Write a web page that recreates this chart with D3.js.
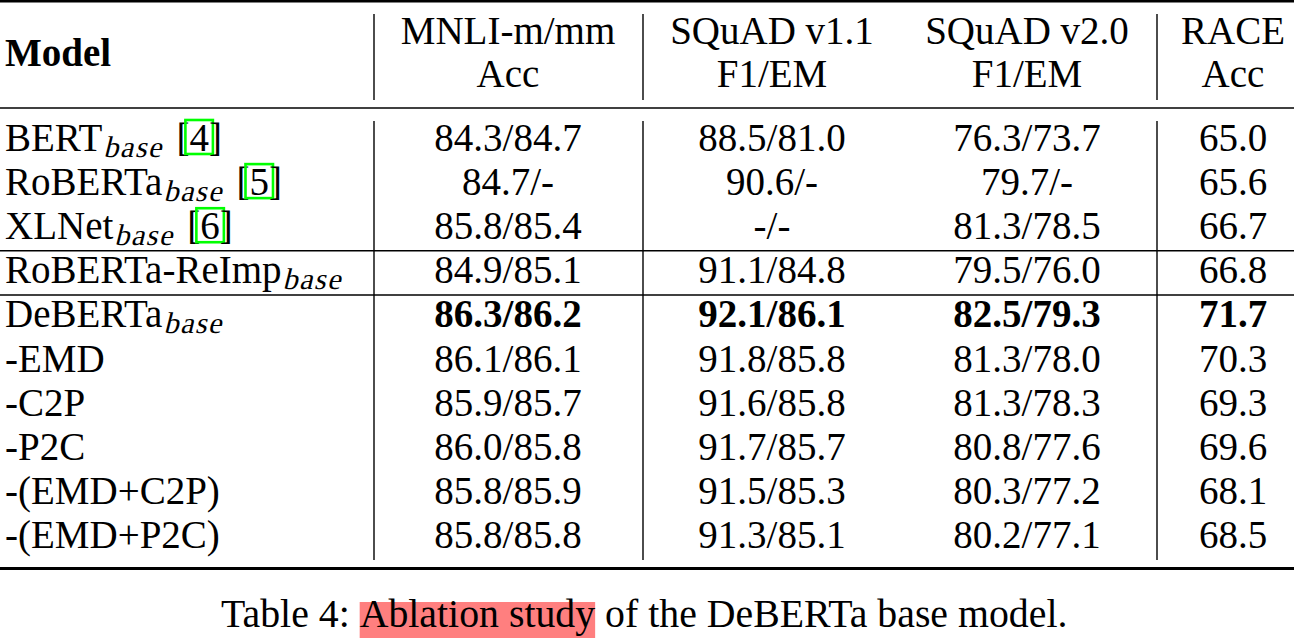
<!DOCTYPE html>
<html>
<head>
<meta charset="utf-8">
<script src="https://cdn.jsdelivr.net/npm/d3@7"></script>
<style>
  html, body { margin: 0; padding: 0; background: #fff; }
  svg { display: block; }
</style>
</head>
<body>
<svg id="chart" width="1294" height="640"></svg>
<script>
// ---------------- data ----------------
const models   = ["BERT", "RoBERTa", "XLNet", "RoBERTa-ReImp", "DeBERTa", "-EMD", "-C2P", "-P2C", "-(EMD+C2P)", "-(EMD+P2C)"];
const subs     = ["base", "base", "base", "base", "base", "", "", "", "", ""];
const refs     = ["4", "5", "6", null, null, null, null, null, null, null];
const mnliM    = [84.3, 84.7, 85.8, 84.9, 86.3, 86.1, 85.9, 86.0, 85.8, 85.8];
const mnliMM   = [84.7, null, 85.4, 85.1, 86.2, 86.1, 85.7, 85.8, 85.9, 85.8];
const sq11F1   = [88.5, 90.6, null, 91.1, 92.1, 91.8, 91.6, 91.7, 91.5, 91.3];
const sq11EM   = [81.0, null, null, 84.8, 86.1, 85.8, 85.8, 85.7, 85.3, 85.1];
const sq20F1   = [76.3, 79.7, 81.3, 79.5, 82.5, 81.3, 81.3, 80.8, 80.3, 80.2];
const sq20EM   = [73.7, null, 78.5, 76.0, 79.3, 78.0, 78.3, 77.6, 77.2, 77.1];
const race     = [65.0, 65.6, 66.7, 66.8, 71.7, 70.3, 69.3, 69.6, 68.1, 68.5];
const boldRow  = 4;
const columns  = ["mnli", "sq11", "sq20", "race"];
const headers1 = ["MNLI-m/mm", "SQuAD v1.1", "SQuAD v2.0", "RACE"];
const headers2 = ["Acc", "F1/EM", "F1/EM", "Acc"];
const caption  = ["Table 4: ", "Ablation study", " of the DeBERTa base model."];
const groupBreaks = [3, 4]; // rule drawn before these row indices

// ---------------- layout ----------------
const W = 1294, H = 640;
const FONT = "'Liberation Serif', 'Times New Roman', serif";
const FS = 39;
const svg = d3.select("#chart");

const fmt = v => v == null ? "-" : v.toFixed(1);
const cellText = {
  mnli: i => fmt(mnliM[i]) + "/" + fmt(mnliMM[i]),
  sq11: i => fmt(sq11F1[i]) + "/" + fmt(sq11EM[i]),
  sq20: i => fmt(sq20F1[i]) + "/" + fmt(sq20EM[i]),
  race: i => fmt(race[i])
};

// column scale: centers of the data columns
const x = d3.scaleOrdinal().domain(columns).range([508, 772, 1027, 1233]);
// vertical separators
const vlines = [374, 643, 1157];
// row baselines
const y = d3.scaleLinear().domain([0, models.length - 1]).range([151, 548]);

const g = svg.append("g").attr("font-family", FONT).attr("font-size", FS).attr("fill", "#000");

// rules
const rule = (yy, w) => g.append("line").attr("x1", 0).attr("x2", W).attr("y1", yy).attr("y2", yy)
  .attr("stroke", "#000").attr("stroke-width", w);
rule(1.2, 2.6);
rule(108, 1.6);
groupBreaks.forEach(b => rule((y(b - 1) + y(b)) / 2 - 10.5, 1.5));
rule(568.5, 3);

// vertical lines
vlines.forEach(vx => {
  g.append("line").attr("x1", vx).attr("x2", vx).attr("y1", 14).attr("y2", 100)
    .attr("stroke", "#000").attr("stroke-width", 1.4);
  g.append("line").attr("x1", vx).attr("x2", vx).attr("y1", 121).attr("y2", 560)
    .attr("stroke", "#000").attr("stroke-width", 1.4);
});

// header
g.append("text").attr("x", 5).attr("y", 66).attr("font-weight", "bold").text("Model");
g.selectAll("text.h1").data(columns).join("text").attr("class", "h1")
  .attr("x", d => x(d)).attr("y", 44).attr("text-anchor", "middle")
  .text((d, i) => headers1[i]);
g.selectAll("text.h2").data(columns).join("text").attr("class", "h2")
  .attr("x", d => x(d)).attr("y", 87).attr("text-anchor", "middle")
  .text((d, i) => headers2[i]);

// body cells
columns.forEach(c => {
  g.selectAll("text.c-" + c).data(models.map((m, i) => i)).join("text").attr("class", "c-" + c)
    .attr("x", x(c)).attr("y", i => y(i)).attr("text-anchor", "middle")
    .attr("font-weight", i => i === boldRow ? "bold" : null)
    .text(i => cellText[c](i));
});

// model names with subscripts and reference boxes
models.forEach((m, i) => {
  const by = y(i);
  let cx = 5;
  const t = g.append("text").attr("x", cx).attr("y", by).text(m);
  cx += t.node().getComputedTextLength();
  if (subs[i]) {
    // math-italic subscript (slanted serif)
    const s = g.append("text").attr("transform", `translate(${cx + 1},${by + 6}) skewX(-14)`)
      .attr("font-size", 30).attr("letter-spacing", 1.5).text(subs[i]);
    cx += s.node().getComputedTextLength() + 1;
  }
  if (refs[i]) {
    cx += 4;
    const sp = g.append("text").attr("x", cx).attr("y", by).attr("xml:space", "preserve").text(" [");
    cx += sp.node().getComputedTextLength();
    const d = g.append("text").attr("x", cx).attr("y", by).text(refs[i]);
    const dw = d.node().getComputedTextLength();
    g.append("rect").attr("x", cx - 4).attr("y", by - 31).attr("width", dw + 8).attr("height", 34)
      .attr("fill", "none").attr("stroke", "#00ff00").attr("stroke-width", 2.6);
    cx += dw;
    g.append("text").attr("x", cx).attr("y", by).text("]");
  }
});

// caption
const capY = 627;
const capG = g.append("g").attr("font-size", 39.8);
const parts = caption.map(p => capG.append("text").attr("y", capY).attr("xml:space", "preserve").text(p));
const widths = parts.map(p => p.node().getComputedTextLength());
let px = 221;
parts.forEach((p, k) => {
  if (k === 1) {
    capG.insert("rect", "text").attr("x", px).attr("y", 602).attr("width", widths[k]).attr("height", 36)
      .attr("fill", "#ff7f7f");
  }
  p.attr("x", px);
  px += widths[k];
});
</script>
</body>
</html>
